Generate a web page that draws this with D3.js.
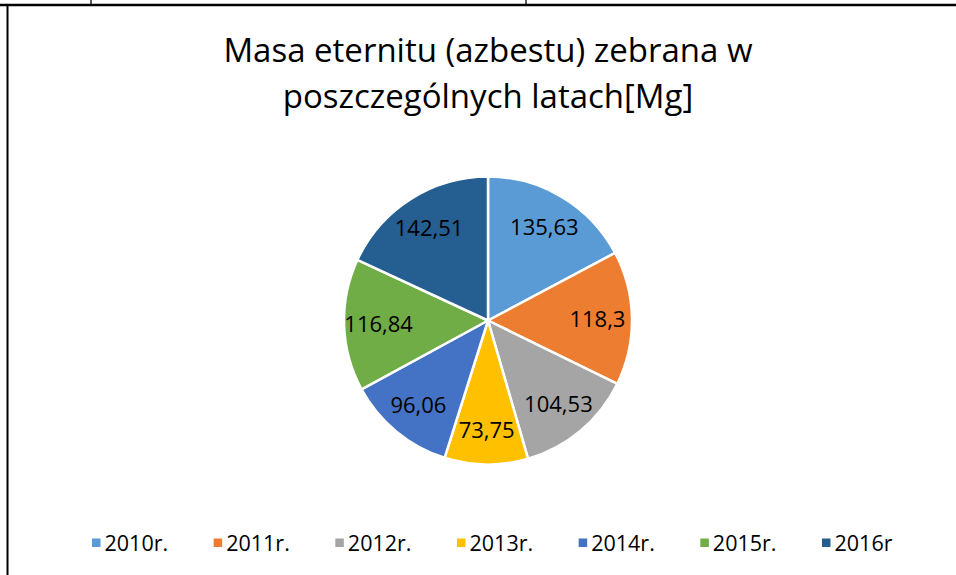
<!DOCTYPE html>
<html>
<head>
<meta charset="utf-8">
<script src="https://cdn.jsdelivr.net/npm/d3@7"></script>
<style>
  html, body { margin: 0; padding: 0; background: #fff; }
  svg { display: block; }
  text { font-family: "Open Sans", "Noto Sans", sans-serif; fill: #000; }
</style>
</head>
<body>
<svg id="chart" width="956" height="575"></svg>
<script>
// ---- data ----
const titleLines = ["Masa eternitu (azbestu) zebrana w", "poszczególnych latach[Mg]"];
const categories = ["2010r.", "2011r.", "2012r.", "2013r.", "2014r.", "2015r.", "2016r"];
const values = [135.63, 118.3, 104.53, 73.75, 96.06, 116.84, 142.51];
const valueLabels = ["135,63", "118,3", "104,53", "73,75", "96,06", "116,84", "142,51"];
const colors = ["#5B9BD5", "#ED7D31", "#A5A5A5", "#FFC000", "#4472C4", "#70AD47", "#255E91"];

const W = 956, H = 575;
const svg = d3.select("#chart");

// frame lines (table borders)
const frame = svg.append("g").attr("stroke", "#000").attr("fill", "none");
frame.append("line").attr("x1", 0).attr("x2", W).attr("y1", 5).attr("y2", 5).attr("stroke-width", 2.5);
frame.append("line").attr("x1", 7.5).attr("x2", 7.5).attr("y1", 4).attr("y2", H).attr("stroke-width", 2);
frame.append("line").attr("x1", 91).attr("x2", 91).attr("y1", 0).attr("y2", 5).attr("stroke-width", 1.3);
frame.append("line").attr("x1", 526).attr("x2", 526).attr("y1", 0).attr("y2", 5).attr("stroke-width", 1.3);

// title
const cx = 488, cy = 320.5, R = 144;
svg.append("g").selectAll("text").data(titleLines).join("text")
  .attr("x", cx).attr("y", (d, i) => 62 + i * 46)
  .attr("text-anchor", "middle")
  .style("font-size", "33px")
  .text(d => d);

// pie
const color = d3.scaleOrdinal().domain(categories).range(colors);
const pie = d3.pie().sort(null).value(d => d.value);
const data = categories.map((c, i) => ({ cat: c, value: values[i], label: valueLabels[i] }));
const arcs = pie(data);
const arc = d3.arc().innerRadius(0).outerRadius(R);
const labelArc = d3.arc().innerRadius(R * 0.76).outerRadius(R * 0.76);

const g = svg.append("g").attr("transform", `translate(${cx},${cy})`);
g.selectAll("path").data(arcs).join("path")
  .attr("d", arc)
  .attr("fill", d => color(d.data.cat))
  .attr("stroke", "#fff")
  .attr("stroke-width", 2.5)
  .attr("stroke-linejoin", "round");

g.selectAll("text").data(arcs).join("text")
  .attr("transform", d => `translate(${labelArc.centroid(d)})`)
  .attr("text-anchor", "middle")
  .attr("dy", "0.36em")
  .style("font-size", "22px")
  .text(d => d.data.label);

// legend
const lx = d3.scalePoint().domain(categories).range([92, 822]);
const leg = svg.append("g").selectAll("g").data(categories).join("g")
  .attr("transform", d => `translate(${lx(d)},543)`);
leg.append("rect").attr("x", 0).attr("y", -4.5).attr("width", 8.5).attr("height", 8.5)
  .attr("fill", d => color(d));
leg.append("text").attr("x", 12.5).attr("y", 0).attr("dy", "0.36em")
  .style("font-size", "21.5px")
  .text(d => d);
</script>
</body>
</html>
